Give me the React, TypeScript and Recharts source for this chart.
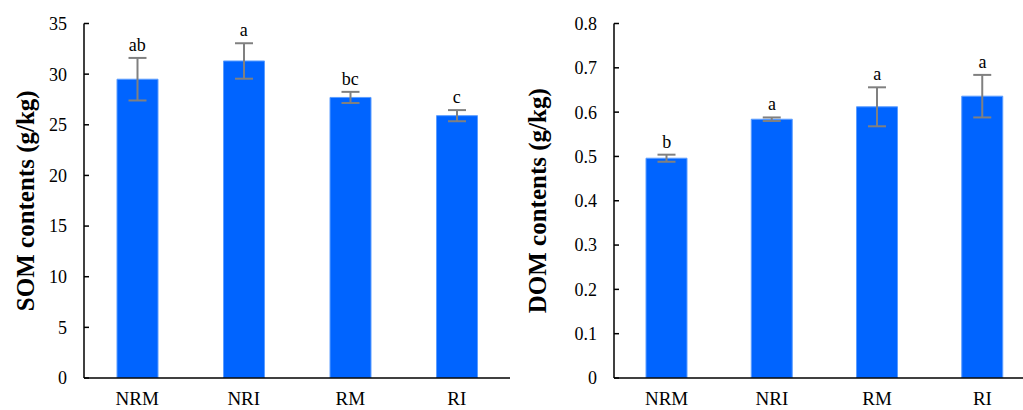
import React from 'react';
import { ComposedChart, Bar, Line, XAxis, YAxis, ErrorBar, LabelList, Label } from 'recharts';

const categories = ['NRM', 'NRI', 'RM', 'RI'];

const somMean = [29.5, 31.3, 27.7, 25.9];
const somErr = [2.1, 1.75, 0.55, 0.55];
const somLetters = ['ab', 'a', 'bc', 'c'];
const somTicks = [0, 5, 10, 15, 20, 25, 30, 35];

const domMean = [0.496, 0.584, 0.612, 0.636];
const domErr = [0.008, 0.004, 0.044, 0.048];
const domLetters = ['b', 'a', 'a', 'a'];
const domTicks = [0, 0.1, 0.2, 0.3, 0.4, 0.5, 0.6, 0.7, 0.8];

const FONT = '"Liberation Serif", "Times New Roman", serif';

function buildRows(mean: number[], err: number[], letters: string[]) {
  return categories.map((c, i) => ({
    cat: c,
    mean: mean[i],
    err: err[i],
    top: mean[i] + err[i],
    letter: letters[i],
  }));
}

const somData = buildRows(somMean, somErr, somLetters);
const domData = buildRows(domMean, domErr, domLetters);

function makeTitle(text: string, dxFromLeft: number) {
  return (props: any) => {
    const vb = props.viewBox || { x: 0, y: 0, width: 0, height: 0 };
    const cx = vb.x + dxFromLeft;
    const cy = vb.y + vb.height / 2;
    return (
      <text
        x={cx}
        y={cy}
        transform={`rotate(-90 ${cx} ${cy})`}
        textAnchor="middle"
        dominantBaseline="central"
        style={{ fontFamily: FONT, fontSize: 25, fontWeight: 'bold' }}
        fill="#000"
      >
        {text}
      </text>
    );
  };
}

type PanelProps = {
  data: any[];
  width: number;
  yAxisWidth: number;
  marginRight: number;
  domain: [number, number];
  ticks: number[];
  title: string;
  titleX: number;
};

function Panel({ data, width, yAxisWidth, marginRight, domain, ticks, title, titleX }: PanelProps) {
  return (
    <ComposedChart
      width={width}
      height={410}
      data={data}
      margin={{ top: 23.5, right: marginRight, bottom: 0, left: 0 }}
      style={{ fontFamily: FONT }}
    >
      <XAxis
        dataKey="cat"
        tickLine={false}
        tickSize={0}
        tickMargin={14}
        height={32}
        fontSize={19}
        fontFamily={FONT}
        axisLine={{ stroke: '#000', strokeWidth: 1.5 }}
        tick={{ fill: '#000', fontSize: 19, fontFamily: FONT, style: { fontFamily: FONT, fontSize: 19 } }}
        interval={0}
      />
      <YAxis
        width={yAxisWidth}
        domain={domain}
        ticks={ticks}
        interval={0}
        tickSize={-5}
        tickMargin={22}
        fontSize={18}
        fontFamily={FONT}
        axisLine={{ stroke: '#000', strokeWidth: 1.5 }}
        tickLine={{ stroke: '#000', strokeWidth: 1.5 }}
        tick={{ fill: '#000', fontSize: 18, fontFamily: FONT, style: { fontFamily: FONT, fontSize: 18 } }}
        allowDataOverflow
      >
        <Label content={makeTitle(title, titleX)} />
      </YAxis>
      <Bar
        dataKey="mean"
        barSize={41}
        fill="#0064FF"
        stroke="#5C9DFF"
        strokeWidth={1}
        isAnimationActive={false}
      >
        <ErrorBar dataKey="err" width={9} stroke="#808080" strokeWidth={2} direction="y" />
      </Bar>
      <Line
        dataKey="top"
        stroke="none"
        dot={false}
        activeDot={false}
        legendType="none"
        isAnimationActive={false}
      >
        <LabelList
          dataKey="letter"
          position="top"
          offset={7}
          fill="#000"
          fontSize={18}
          fontFamily={FONT}
          style={{ fontFamily: FONT, fontSize: 18 }}
        />
      </Line>
    </ComposedChart>
  );
}

export default function App() {
  return (
    <div
      style={{
        position: 'absolute',
        left: 0,
        top: 0,
        width: 1023,
        height: 410,
        overflow: 'hidden',
        background: '#fff',
        fontFamily: FONT,
      }}
    >
      <div style={{ position: 'absolute', left: 0, top: 0 }}>
        <Panel
          data={somData}
          width={520}
          yAxisWidth={84}
          marginRight={10}
          domain={[0, 35]}
          ticks={somTicks}
          title="SOM contents (g/kg)"
          titleX={25}
        />
      </div>
      <div style={{ position: 'absolute', left: 520, top: 0 }}>
        <Panel
          data={domData}
          width={515}
          yAxisWidth={94}
          marginRight={0}
          domain={[0, 0.8]}
          ticks={domTicks}
          title="DOM contents (g/kg)"
          titleX={17}
        />
      </div>
    </div>
  );
}
